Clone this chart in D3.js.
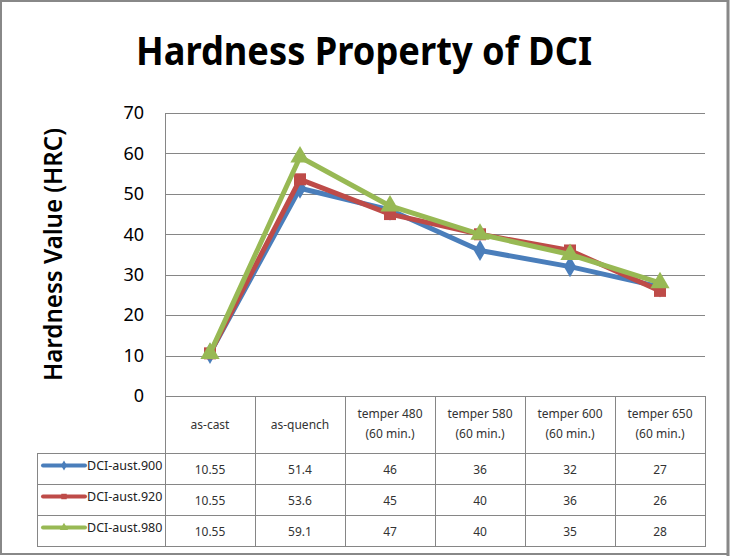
<!DOCTYPE html>
<html><head><meta charset="utf-8">
<script src="https://cdn.jsdelivr.net/npm/d3@7"></script>
<style>body{margin:0;background:#fff}svg{display:block}</style>
</head><body>
<script>
const categories = ["as-cast","as-quench","temper 480\n(60 min.)","temper 580\n(60 min.)","temper 600\n(60 min.)","temper 650\n(60 min.)"];
const seriesNames = ["DCI-aust.900","DCI-aust.920","DCI-aust.980"];
const aust900 = [10.55, 51.4, 46, 36, 32, 27];
const aust920 = [10.55, 53.6, 45, 40, 36, 26];
const aust980 = [10.55, 59.1, 47, 40, 35, 28];
const yTicks = [0,10,20,30,40,50,60,70];
const colors = ["#4A7EBB","#BE4B48","#98B954"];
const symbols = [d3.symbolDiamond, d3.symbolSquare, d3.symbolTriangle];
const series = [aust900, aust920, aust980];

const W = 730, H = 556;
const svg = d3.select("body").append("svg").attr("width", W).attr("height", H);
const font = "'Noto Sans', 'Open Sans', sans-serif";
const grid = "#868686";

// frame
svg.append("rect").attr("x",1).attr("y",1).attr("width",727).attr("height",553)
  .attr("fill","#fff").attr("stroke","#888").attr("stroke-width",2);
svg.append("line").attr("x1",728).attr("x2",728).attr("y1",0).attr("y2",556).attr("stroke","#888").attr("stroke-width",3);

const L = 165, R = 705, T = 113, B = 396;
const x = d3.scaleBand().domain(d3.range(categories.length)).range([L, R]);
const y = d3.scaleLinear().domain([0,70]).range([B, T]);

// title
svg.append("text").attr("x",364).attr("y",65).attr("text-anchor","middle")
  .attr("font-family",font).attr("font-weight","bold").attr("font-size",39)
  .attr("textLength",456).attr("lengthAdjust","spacingAndGlyphs")
  .text("Hardness Property of DCI");

// y label
svg.append("text").attr("transform","translate(62,254.5) rotate(-90)")
  .attr("text-anchor","middle").attr("font-family",font).attr("font-weight","600")
  .attr("font-size",25).attr("textLength",253).attr("lengthAdjust","spacingAndGlyphs")
  .text("Hardness Value (HRC)");

// gridlines
svg.append("g").selectAll("line").data(yTicks).join("line")
  .attr("x1",L).attr("x2",R).attr("y1",d=>Math.round(y(d))+0.5).attr("y2",d=>Math.round(y(d))+0.5)
  .attr("stroke",grid).attr("stroke-width",1);
svg.append("line").attr("x1",L+0.5).attr("x2",L+0.5).attr("y1",T).attr("y2",B).attr("stroke",grid);

// y tick labels via axis
const yAxis = svg.append("g").attr("transform",`translate(${L},0)`)
  .call(d3.axisLeft(y).tickValues(yTicks).tickSize(0).tickPadding(21));
yAxis.select(".domain").remove();
yAxis.selectAll("text").attr("font-family",font).attr("font-size",18).attr("fill","#000");

// table
const rowTop = [396, 453, 484, 515, 546];
const tbl = svg.append("g").attr("stroke",grid).attr("stroke-width",1).attr("fill","none");
const colEdges = d3.range(categories.length+1).map(i => i<categories.length ? x(i) : R);
colEdges.forEach(cx => tbl.append("line").attr("x1",Math.round(cx)+0.5).attr("x2",Math.round(cx)+0.5).attr("y1",B).attr("y2",rowTop[4]));
tbl.append("line").attr("x1",37.5).attr("x2",37.5).attr("y1",rowTop[1]).attr("y2",rowTop[4]);
rowTop.slice(1).forEach(ry => tbl.append("line").attr("x1",37).attr("x2",R+1).attr("y1",ry+0.5).attr("y2",ry+0.5));

// header text
const hdr = svg.append("g").attr("font-family",font).attr("font-size",12).attr("fill","#333").attr("text-anchor","middle");
categories.forEach((c,i) => {
  const lines = c.split("\n");
  const cx = x(i) + x.bandwidth()/2;
  if (lines.length === 1) {
    hdr.append("text").attr("x",cx).attr("y",429).text(lines[0]);
  } else {
    hdr.append("text").attr("x",cx).attr("y",418).text(lines[0]);
    hdr.append("text").attr("x",cx).attr("y",438).text(lines[1]);
  }
});

// rows
series.forEach((vals,si) => {
  const cy = (rowTop[si+1]+rowTop[si+2])/2;
  const g = svg.append("g");
  g.append("line").attr("x1",43).attr("x2",85).attr("y1",cy-3).attr("y2",cy-3)
    .attr("stroke",colors[si]).attr("stroke-width",4).attr("stroke-linecap","round");
  g.append("path").attr("d",d3.symbol(symbols[si], 30)()).attr("transform",`translate(64,${cy-3})`).attr("fill",colors[si]);
  g.append("text").attr("x",87).attr("y",cy+1).attr("font-family",font).attr("font-size",12.5).attr("fill","#222").text(seriesNames[si]);
  vals.forEach((v,i) => {
    g.append("text").attr("x",x(i)+x.bandwidth()/2).attr("y",cy+5).attr("text-anchor","middle")
      .attr("font-family",font).attr("font-size",12).attr("fill","#333").text(v);
  });
});

// lines & markers
const line = d3.line().x((d,i)=>x(i)+x.bandwidth()/2).y(d=>y(d));
const sizes = [130, 144, 160];
series.forEach((vals,si) => {
  svg.append("path").datum(vals).attr("d",line).attr("fill","none")
    .attr("stroke",colors[si]).attr("stroke-width",5).attr("stroke-linejoin","round");
  svg.append("g").selectAll("path").data(vals).join("path")
    .attr("d",d3.symbol(symbols[si], sizes[si])())
    .attr("transform",(d,i)=>`translate(${x(i)+x.bandwidth()/2},${y(d)})`)
    .attr("fill",colors[si]);
});
</script>
</body></html>
